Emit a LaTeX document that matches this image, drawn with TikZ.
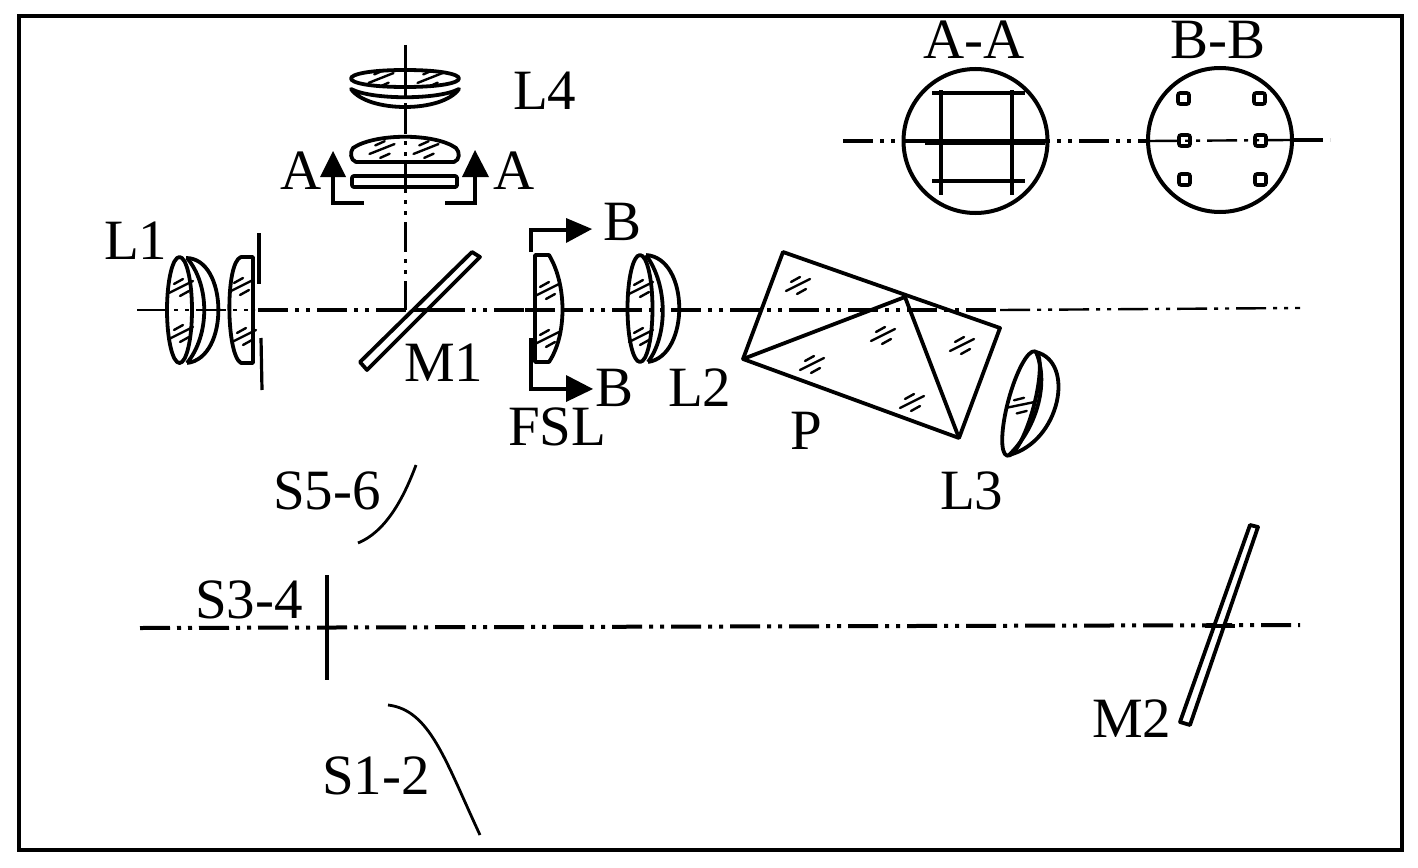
\documentclass[tikz,border=0pt]{standalone}
\usepackage{fontspec}
\setmainfont{Liberation Serif}
\tikzset{
  lab/.style={anchor=base west,inner sep=0pt,outer sep=0pt,font=\fontsize{57}{60}\selectfont},
  lensline/.style={line width=3.8pt,line join=round},
  thinaxis/.style={line width=2.4pt,dash pattern=on 30pt off 7pt on 4pt off 7pt on 4pt off 7pt},
  midaxis/.style={line width=3pt,dash pattern=on 30pt off 7pt on 4pt off 7pt on 4pt off 7pt},
  thickaxis/.style={line width=4pt,dash pattern=on 30pt off 7pt on 4pt off 7pt on 4pt off 7pt},
  solidbar/.style={line width=4.5pt},
  hatchline/.style={line width=2.4pt,line cap=round},
  holebox/.style={line width=3.6pt,rounded corners=2pt}
}
\newcommand{\hatchmark}[3][0]{\begin{scope}[shift={(#2,#3)},rotate=#1]
  \draw[hatchline] (-12,6)--(12,-6) (-7,-3)--(2,-8) (-1,9)--(8,4);
\end{scope}}
\begin{document}
\begin{tikzpicture}[x=1pt,y=-1pt]
\useasboundingbox (0,0) rectangle (1418,867);
\fill[white] (0,0) rectangle (1418,867);
\draw[line width=4.4pt] (19,16) rectangle (1402,850);

% axes
\draw[thinaxis] (137,310)--(255,310);
\draw[thickaxis] (258,310)--(1000,310);
\draw[thinaxis] (1000,310)--(1300,308);
\draw[midaxis] (405,45)--(405,310);
\draw[thickaxis] (140,628)--(1300,625);
\draw[thickaxis] (843,141)--(1148,141);
\draw[thinaxis] (1148,141)--(1290,140);
\draw[thickaxis] (1293,140)--(1330,140);

% L4
\draw[lensline] (405,70) .. controls (333,70) and (333,87) .. (405,87) .. controls (477,87) and (477,70) .. (405,70);
\draw[lensline] (351,89) .. controls (368,113) and (442,113) .. (459,89) .. controls (438,100) and (372,100) .. (351,89) -- cycle;
\draw[midaxis] (405,66)--(405,110);
\hatchmark[-5]{381}{78}\hatchmark[-5]{430}{78}
\draw[lensline] (356,162) .. controls (350,160) and (350,152) .. (353,148) .. controls (375,133) and (435,133) .. (456,148) .. controls (460,152) and (460,160) .. (454,162) -- cycle;
\hatchmark[-5]{382}{149}\hatchmark[-5]{426}{149}
\draw[lensline,rounded corners=2pt] (352,176) rectangle (457,187);

% section arrows A
\draw[line width=4.5pt] (364,203)--(333,203)--(333,175);
\fill (333,151)--(346,177)--(320,177)--cycle;
\draw[line width=4.5pt] (445,203)--(475,203)--(475,175);
\fill (475,150)--(489,177)--(462,177)--cycle;

% L1
\draw[lensline] (179.5,310) ellipse[x radius=12.5,y radius=53];
\draw[lensline] (186,258) .. controls (228,258) and (230,358) .. (187,363);
\draw[lensline] (187,258) .. controls (210,285) and (210,335) .. (187,363);
\hatchmark{181}{287}\hatchmark{181}{333}
\draw[lensline] (253,257) -- (241,257) .. controls (225,262) and (226,355) .. (241,363) -- (253,363) -- cycle;
\hatchmark{241}{286}\hatchmark{244}{336}
\draw[solidbar] (259,233)--(259,284);
\draw[line width=3.2pt] (261,338)--(262,390);

% M1
\draw[lensline,fill=white] (360,362)--(472,252)--(480,257)--(367,370)--cycle;
\draw[thickaxis] (412,310)--(450,310);

% FSL
\draw[lensline,fill=white] (535,255)--(549,255) .. controls (567,285) and (567,335) .. (549,362) -- (535,362) -- cycle;
\hatchmark{547}{290}\hatchmark{547}{338}
\draw[thickaxis] (525,310)--(570,310);
\draw[line width=3.8pt] (531,252)--(531,230)--(568,230);
\fill (592,229)--(566,218)--(566,243)--cycle;
\draw[line width=3.8pt] (531,338)--(531,389)--(568,389);
\fill (593,389)--(566,375)--(566,402)--cycle;

% L2
\draw[lensline] (640,308.5) ellipse[x radius=12.5,y radius=53.5];
\draw[lensline] (646,255) .. controls (690,258) and (690,356) .. (648,362);
\draw[lensline] (646,255) .. controls (668,285) and (668,335) .. (648,362);
\hatchmark{641}{288}\hatchmark{641}{336}

% P
\draw[lensline] (783,252)--(1000,328)--(959,438)--(743,359)--cycle;
\draw[lensline] (743,359)--(905,297)--(959,438);
\hatchmark{798}{285}\hatchmark{883}{335}\hatchmark{812}{364}\hatchmark{912}{402}\hatchmark{962}{345}

% L3
\draw[lensline,shift={(1021,403.5)},rotate=-15] (0,0) ellipse[x radius=13,y radius=54];
\draw[lensline] (1036,352) .. controls (1076,362) and (1060,442) .. (1009,455);
\draw[lensline] (1036,352) .. controls (1050,385) and (1035,430) .. (1009,455);
\hatchmark[-15]{1020}{405}

% S curves
\draw[line width=2.8pt] (358,543) .. controls (385,532) and (403,500) .. (416,465);
\draw[solidbar] (327,575)--(327,680);
\draw[line width=2.8pt] (388,705) .. controls (430,710) and (445,760) .. (480,835);

% M2
\draw[lensline,fill=white] (1180,722)--(1250,525)--(1258,527)--(1190,725)--cycle;
\draw[thickaxis] (1205,626)--(1235,626);

% section views
\draw[line width=4pt] (975.5,141) circle[radius=72];
\draw[line width=4.5pt] (941,90)--(941,195) (1012,90)--(1012,195) (932,93)--(1025,93) (932,181)--(1025,181);
\draw[line width=5.5pt] (925,142)--(1045,142);
\draw[line width=4pt] (1220,140) circle[radius=72];
\foreach \px/\py in {1183/98,1259/98,1184/140,1260/140,1184/179,1260/179}
  \draw[holebox] (\px-5,\py-5) rectangle (\px+6,\py+6);

% labels
\node[lab] (lfour) at (513,109) {L4};
\node[lab] (aleft) at (280,189) {A};
\node[lab] (aright) at (493,189) {A};
\node[lab] (lone) at (104,259) {L1};
\node[lab] (bup) at (603,240) {B};
\node[lab] (mone) at (404,381) {M1};
\node[lab] (bdown) at (595,406) {B};
\node[lab] (ltwo) at (668,406) {L2};
\node[lab] (fsl) at (508,445) {FSL};
\node[lab] (pp) at (790,449) {P};
\node[lab] (lthree) at (940,509) {L3};
\node[lab] (sfive) at (273,509) {S5-6};
\node[lab] (sthree) at (195,618) {S3-4};
\node[lab] (sone) at (322,794) {S1-2};
\node[lab] (mtwo) at (1092,737) {M2};
\node[lab] (aa) at (923,59) {A-A};
\node[lab] (bb) at (1170,59) {B-B};
\end{tikzpicture}
\end{document}
